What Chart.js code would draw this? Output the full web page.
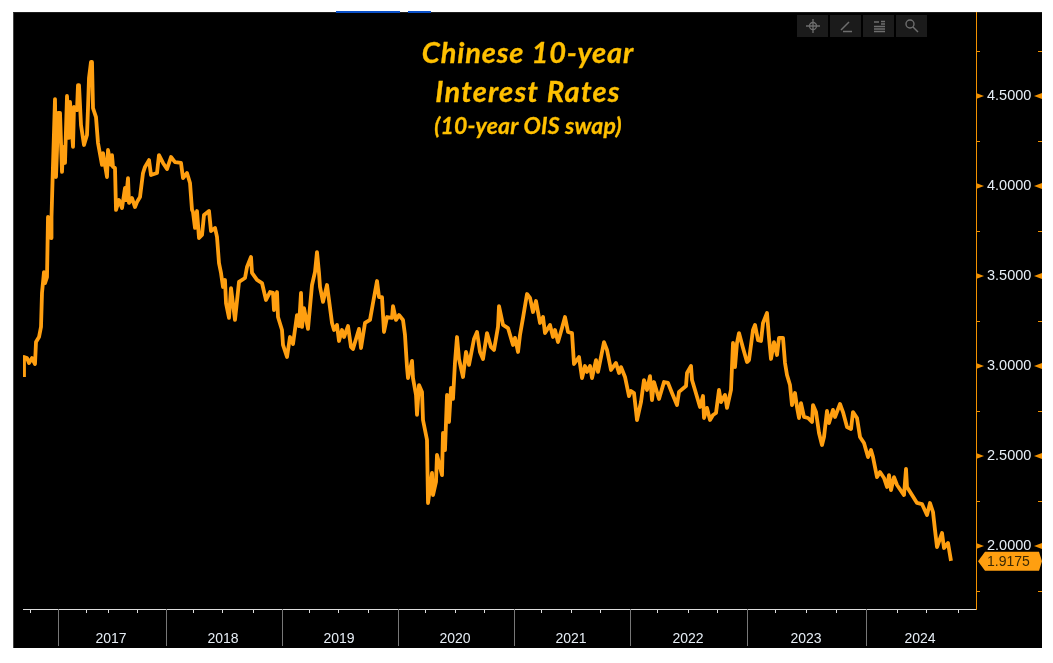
<!DOCTYPE html>
<html>
<head>
<meta charset="utf-8">
<title>Chinese 10-year Interest Rates</title>
<script src="https://cdn.jsdelivr.net/npm/chart.js@4/dist/chart.umd.js"></script>
<style>
    html, body { margin: 0; padding: 0; background: #fff; width: 1053px; height: 663px; overflow: hidden; }
    #panel { position: absolute; left: 13px; top: 12px; width: 1029px; height: 636px; background: #000;
             border-left: 1px solid #444; border-top: 1px solid #1e1e1e; box-sizing: border-box; }
    #rateChart { position: absolute; left: 0; top: 0; }
    .blue { position: absolute; top: 11px; height: 2px; background: #0a50c8; }
    .title { position: absolute; left: 328px; width: 400px; text-align: center; color: #ffc000;
             font-family: Lato, sans-serif; font-weight: 700; font-style: italic; white-space: nowrap;
             -webkit-text-stroke: 0.3px #ffc000; }
    .btn { position: absolute; top: 15px; width: 31px; height: 22px; background: #1b1b1b; }
    .btn svg { display: block; }
</style>
</head>
<body>
<div id="panel"></div>
<div class="blue" style="left:336px;width:64px"></div>
<div class="blue" style="left:408px;width:23px"></div>
<canvas id="rateChart" width="1053" height="663"></canvas>
<div class="title" style="top:35px;font-size:29px;line-height:34px;letter-spacing:0.85px">Chinese 10-year</div>
<div class="title" style="top:74px;font-size:29px;line-height:34px;letter-spacing:1.2px">Interest Rates</div>
<div class="title" style="top:111px;font-size:23px;line-height:28px;letter-spacing:0.2px">(10-year OIS swap)</div>
<div class="btn" style="left:797px"><svg width="31" height="22" fill="none" stroke="#6e6e6e" stroke-width="1.3"><circle cx="16" cy="11" r="3.5"/><path d="M16 4v14M9 11h14"/></svg></div>
<div class="btn" style="left:830px"><svg width="31" height="22" fill="none" stroke="#6e6e6e" stroke-width="1.5"><path d="M11 15l8-8M13 16.5h9"/></svg></div>
<div class="btn" style="left:863px"><svg width="31" height="22" fill="none" stroke="#6e6e6e" stroke-width="1.5"><path d="M11 7h5M18 6.5h4M18 9h4M11 11.5h11M11 14h11M11 16.5h11"/></svg></div>
<div class="btn" style="left:896px"><svg width="31" height="22" fill="none" stroke="#6e6e6e" stroke-width="1.4"><circle cx="14" cy="9" r="4"/><path d="M17 12l5 5"/></svg></div>

<script>
// x position is a running session count along the axis
const sessions = [2,2,8,12,18,24,26,32,36,38,42,44,48,50,56,57,60,64,66,68,70,74,78,80,84,88,92,94,100,102,108,110,112,116,122,128,130,132,136,138,140,146,150,158,160,168,170,176,178,180,184,186,192,198,204,206,210,212,218,224,228,
    234,240,244,252,256,268,272,280,288,296,304,316,320,328,334,338,340,344,348,352,358,362,372,376,384,388,392,396,400,404,406,412,416,424,432,444,448,456,458,468,478,486,494,500,502,508,510,518,520,528,534,540,548,552,556,558,562,570,578,584,588,592,594,600,608,612,618,622,628,632,638,642,650,656,660,672,676,684,694,700,708,712,718,722,728,738,740,746,752,760,764,768,770,778,780,786,788,792,798,800,808,810,818,820,826,828,838,840,844,848,852,856,860,864,868,872,880,886,892,902,908,914,920,928,936,942,950,952,960,970,980,984,990,994,
    1000,1008,1014,1020,1026,1034,1040,1044,1054,1060,1064,1070,1078,1084,1090,1098,1102,1112,1118,1124,1128,1134,1138,1146,1150,1162,1168,1176,1186,1192,1196,1204,1212,1216,1222,1228,1236,1242,1248,1254,1258,1262,1272,1282,1290,1298,1308,1312,1326,1328,1336,1338,1344,1354,1360,1362,1368,1374,1380,1386,1392,1396,1404,1408,1416,1420,1424,1428,1432,1440,1448,1452,1460,1464,1470,1476,1480,1488,1492,1496,1502,1508,1512,1520,1524,1528,1534,1538,1544,1548,1552,1556,1562,1570,1578,1580,1586,1592,1598,1602,1608,1612,1620,1624,1634,1640,1648,1656,1660,1668,1674,1682,1690,1696,1700,1708,1714,1722,1728,1732,1736,1742,1748,1762,1766,1768,1778,1788,1798,1808,1814,1820,1824,1828,1838,1842,1850,1856];

const rates = [2.939,3.05,3.044,3.017,3.044,3.011,3.133,3.161,3.217,3.406,3.522,3.461,3.494,3.828,3.711,3.828,4.117,4.483,4.05,4.2,4.406,4.406,4.078,4.217,4.128,4.5,4.267,4.467,4.217,4.439,4.422,4.561,4.561,4.339,4.228,4.283,4.433,4.6,4.689,4.689,4.433,4.383,4.239,4.117,4.183,4.05,4.2,4.117,4.172,4.106,4.1,3.867,3.922,3.878,3.989,3.922,4.044,3.906,3.933,3.883,3.911,
    3.939,4.072,4.106,4.144,4.061,4.072,4.172,4.128,4.094,4.161,4.133,4.128,4.044,4.072,4.017,3.867,3.856,3.767,3.861,3.711,3.728,3.839,3.861,3.75,3.767,3.717,3.572,3.517,3.439,3.478,3.35,3.267,3.433,3.256,3.467,3.489,3.55,3.606,3.517,3.478,3.461,3.367,3.411,3.406,3.311,3.411,3.272,3.2,3.117,3.05,3.161,3.122,3.283,3.222,3.406,3.217,3.322,3.206,3.45,3.522,3.633,3.517,3.439,3.356,3.45,3.367,3.239,3.2,3.228,3.139,3.2,3.161,3.222,3.106,3.094,3.206,3.1,3.239,3.256,3.35,3.472,3.383,3.383,3.189,3.272,3.267,3.333,3.256,3.283,3.256,3.172,2.994,2.933,3.028,2.933,2.839,2.728,2.894,2.856,2.7,2.589,2.239,2.406,2.283,2.356,2.506,2.394,2.628,2.533,2.839,2.689,2.878,2.817,3.022,3.161,3.039,2.939,3.078,3.006,3.15,3.189,3.078,3.039,3.183,3.106,3.089,3.217,3.333,3.228,3.211,3.117,3.156,3.078,3.172,
    3.267,3.4,3.378,3.3,3.361,3.239,3.272,3.183,3.228,3.161,3.2,3.133,3.211,3.272,3.189,3.183,3.011,3.05,2.933,3.0,2.967,3.0,2.933,3.033,2.967,3.133,3.089,2.978,3.017,2.961,2.994,2.939,2.833,2.861,2.85,2.7,2.8,2.922,2.867,2.944,2.811,2.911,2.817,2.911,2.906,2.85,2.783,2.856,2.889,2.961,3.0,2.922,2.867,2.772,2.833,2.711,2.767,2.7,2.728,2.739,2.867,2.8,2.839,2.767,2.867,3.128,2.994,3.128,3.183,3.1,3.022,3.033,3.2,3.228,3.144,3.139,3.239,3.294,3.156,3.039,3.133,3.061,3.156,3.156,3.017,2.95,2.894,2.783,2.85,2.772,2.711,2.794,2.717,2.711,2.689,2.783,2.744,2.628,2.561,2.606,2.75,2.683,2.756,2.717,2.789,2.744,2.661,2.65,2.744,2.711,2.606,2.572,2.494,2.533,2.494,2.383,2.411,2.378,2.328,2.394,2.311,2.383,2.339,2.283,2.428,2.328,2.283,2.239,2.233,2.172,2.239,2.189,2.089,1.994,2.072,1.989,2.017,1.9175];

const yearLabels = ['2017','2018','2019','2020','2021','2022','2023','2024'];
const yearLabelAt = [176,400,632,864,1096,1330,1566,1794];
const yearStarts = [70,286,518,750,982,1214,1448,1686];
const minorTicksX = [14,126,170,228,340,398,460,572,630,690,804,864,922,1036,1096,1154,1268,1330,1388,1504,1566,1626,1748,1806,1870];
const majorTicksY = [2,2.5,3,3.5,4,4.5];
const minorTicksY = [1.75,2.25,2.75,3.25,3.75,4.25,4.75];
const lastRate = rates[rates.length - 1];

const ORANGE = '#ff9f10';
const AXIS_ORANGE = '#f29100';

// Tick marks and the last price tag, Chart.js has no per tick length
const terminalMarks = {
    id: 'terminalMarks',
    afterDraw(chart) {
        const { ctx, scales } = chart;
        const x = scales.x, y = scales.y;
        const bottom = x.top, axisX = y.left, rightX = y.right;
        ctx.save();

        // x axis
        ctx.strokeStyle = '#777';
        ctx.lineWidth = 1;
        yearStarts.forEach(v => {
            const px = Math.round(x.getPixelForValue(v)) + 0.5;
            ctx.beginPath(); ctx.moveTo(px, bottom); ctx.lineTo(px, bottom + 37); ctx.stroke();
        });
        ctx.strokeStyle = '#ddd';
        minorTicksX.forEach(v => {
            const px = Math.round(x.getPixelForValue(v)) + 0.5;
            ctx.beginPath(); ctx.moveTo(px, bottom); ctx.lineTo(px, bottom + 4); ctx.stroke();
        });

        // y axis
        ctx.strokeStyle = AXIS_ORANGE;
        ctx.fillStyle = AXIS_ORANGE;
        minorTicksY.forEach(v => {
            const py = Math.round(y.getPixelForValue(v)) + 0.5;
            ctx.beginPath(); ctx.moveTo(axisX, py); ctx.lineTo(axisX + 4, py); ctx.stroke();
            ctx.beginPath(); ctx.moveTo(rightX - 4, py); ctx.lineTo(rightX, py); ctx.stroke();
        });
        majorTicksY.forEach(v => {
            const py = y.getPixelForValue(v);
            ctx.beginPath(); ctx.moveTo(axisX, py - 3); ctx.lineTo(axisX + 8, py); ctx.lineTo(axisX, py + 3); ctx.fill();
            ctx.beginPath(); ctx.moveTo(rightX, py - 3); ctx.lineTo(rightX - 8, py); ctx.lineTo(rightX, py + 3); ctx.fill();
        });

        // last value tag
        const tagY = y.getPixelForValue(lastRate) + 0.5;
        ctx.fillStyle = ORANGE;
        ctx.beginPath();
        ctx.moveTo(axisX + 2, tagY);
        ctx.lineTo(axisX + 9, tagY - 9.5);
        ctx.lineTo(rightX - 3, tagY - 9.5);
        ctx.lineTo(rightX, tagY);
        ctx.lineTo(rightX - 3, tagY + 9.5);
        ctx.lineTo(axisX + 9, tagY + 9.5);
        ctx.closePath();
        ctx.fill();
        ctx.fillStyle = '#3c2a05';
        ctx.font = '14px "Liberation Sans"';
        ctx.textAlign = 'left';
        ctx.textBaseline = 'middle';
        ctx.fillText(lastRate.toFixed(4), axisX + 11, tagY + 0.5);
        ctx.restore();
    }
};

new Chart(document.getElementById('rateChart'), {
    type: 'line',
    data: {
        datasets: [{
            data: sessions.map((s, i) => ({ x: s, y: rates[i] })),
            borderColor: ORANGE,
            borderWidth: 3.8,
            borderJoinStyle: 'round',
            pointRadius: 0,
            tension: 0
        }]
    },
    options: {
        responsive: false,
        animation: false,
        layout: { autoPadding: false, padding: { left: 23, top: 12, right: 11, bottom: 15 } },
        plugins: { legend: { display: false }, tooltip: { enabled: false } },
        scales: {
            x: {
                type: 'linear',
                min: 0,
                max: 1906,
                afterFit(scale) { scale.height = 39; },
                afterBuildTicks(scale) { scale.ticks = yearLabelAt.map(v => ({ value: v })); },
                grid: { display: false },
                border: { display: true, color: '#ddd', width: 1 },
                ticks: {
                    autoSkip: false,
                    maxRotation: 0,
                    padding: 14,
                    color: '#e6edf5',
                    font: { family: 'Liberation Sans', size: 14 },
                    callback: (value) => yearLabels[yearLabelAt.indexOf(value)]
                }
            },
            y: {
                position: 'right',
                min: 1.65,
                max: 4.9667,
                afterFit(scale) { scale.width = 66; },
                afterBuildTicks(scale) { scale.ticks = majorTicksY.map(v => ({ value: v })); },
                grid: { display: false },
                border: { display: true, color: AXIS_ORANGE, width: 1 },
                ticks: {
                    autoSkip: false,
                    padding: 3,
                    color: '#e6edf5',
                    font: { family: 'Liberation Sans', size: 14.5 },
                    callback: (value) => value.toFixed(4)
                }
            }
        }
    },
    plugins: [terminalMarks]
});
</script>
</body>
</html>
